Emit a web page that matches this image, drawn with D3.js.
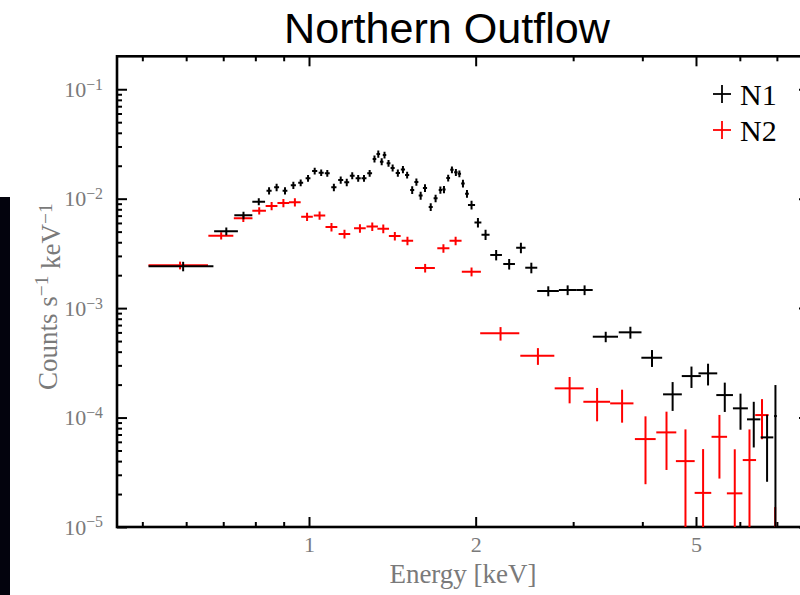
<!DOCTYPE html>
<html>
<head>
<meta charset="utf-8">
<script src="https://cdn.jsdelivr.net/npm/d3@7"></script>
<style>
  html, body { margin: 0; padding: 0; background: #ffffff; overflow: hidden; }
  svg { display: block; }
</style>
</head>
<body>
<svg id="chart" width="800" height="595"></svg>
<script>
// ---- N1 spectrum (energy bin centre, half bin width in keV, rate, 1-sigma error) ----
const n1Energy = [0.5925, 0.709, 0.7615, 0.8115, 0.847, 0.874, 0.905, 0.937, 0.966, 0.996,
  1.024, 1.052, 1.079, 1.109, 1.141, 1.170, 1.197, 1.227, 1.257, 1.287,
  1.313, 1.334, 1.353, 1.369, 1.392, 1.416, 1.447, 1.478, 1.504, 1.536,
  1.563, 1.591, 1.620, 1.659, 1.693, 1.727, 1.753, 1.784, 1.812, 1.842,
  1.869, 1.897, 1.929, 1.966, 2.019, 2.084, 2.178, 2.299, 2.414, 2.521,
  2.705, 2.932, 3.146, 3.435, 3.806, 4.164, 4.537, 4.907, 5.257, 5.636,
  6.017, 6.358, 6.72, 6.958];
const n1HalfWidth = [0.0795, 0.035, 0.0285, 0.0215, 0.009, 0.009, 0.009, 0.010, 0.010, 0.010,
  0.011, 0.011, 0.011, 0.012, 0.012, 0.012, 0.012, 0.013, 0.013, 0.013,
  0.010, 0.010, 0.010, 0.010, 0.011, 0.012, 0.013, 0.013, 0.013, 0.013,
  0.013, 0.013, 0.014, 0.014, 0.014, 0.012, 0.012, 0.014, 0.013, 0.013,
  0.013, 0.014, 0.015, 0.029, 0.029, 0.035, 0.053, 0.056, 0.047, 0.063,
  0.122, 0.105, 0.108, 0.18, 0.18, 0.18, 0.177, 0.194, 0.205, 0.195,
  0.187, 0.177, 0.177, 0.04];
const n1Rate = [2.41e-3, 5.04e-3, 7.05e-3, 9.39e-3, 1.183e-2, 1.271e-2, 1.183e-2, 1.326e-2, 1.400e-2, 1.536e-2,
  1.791e-2, 1.729e-2, 1.707e-2, 1.271e-2, 1.482e-2, 1.412e-2, 1.622e-2, 1.536e-2, 1.536e-2, 1.707e-2,
  2.306e-2, 2.562e-2, 2.179e-2, 2.508e-2, 2.107e-2, 1.909e-2, 1.718e-2, 1.849e-2, 1.646e-2, 1.201e-2,
  1.421e-2, 1.070e-2, 1.253e-2, 8.40e-3, 1.009e-2, 1.201e-2, 1.214e-2, 1.546e-2, 1.841e-2, 1.742e-2,
  1.692e-2, 1.377e-2, 1.111e-2, 8.76e-3, 6.06e-3, 4.69e-3, 3.06e-3, 2.53e-3, 3.56e-3, 2.34e-3,
  1.433e-3, 1.464e-3, 1.464e-3, 5.48e-4, 6.01e-4, 3.52e-4, 1.63e-4, 2.394e-4, 2.535e-4, 1.605e-4,
  1.214e-4, 9.63e-5, 6.59e-5, 1.032e-4];
const n1Error = [2.4e-4, 4e-4, 5.5e-4, 7e-4, 9e-4, 1.0e-3, 9e-4, 1.0e-3, 1.0e-3, 1.1e-3,
  1.3e-3, 1.2e-3, 1.2e-3, 1.0e-3, 1.1e-3, 1.1e-3, 1.2e-3, 1.1e-3, 1.1e-3, 1.2e-3,
  1.7e-3, 1.9e-3, 1.6e-3, 1.8e-3, 1.5e-3, 1.4e-3, 1.3e-3, 1.4e-3, 1.2e-3, 1.0e-3,
  1.1e-3, 9e-4, 1.0e-3, 7e-4, 8e-4, 9e-4, 9e-4, 1.1e-3, 1.3e-3, 1.3e-3,
  1.2e-3, 1.1e-3, 9e-4, 8e-4, 6e-4, 5e-4, 3.3e-4, 2.8e-4, 3.9e-4, 2.6e-4,
  1.5e-4, 1.5e-4, 1.5e-4, 6e-5, 7.5e-5, 6.2e-5, 4.8e-5, 5.3e-5, 5.7e-5, 4.8e-5,
  4.4e-5, 4.3e-5, 4e-5, 9.5e-5];

// ---- N2 spectrum ----
const n2Energy = [0.585, 0.694, 0.761, 0.813, 0.856, 0.899, 0.943, 0.992, 1.045, 1.098,
  1.159, 1.236, 1.301, 1.362, 1.429, 1.506, 1.621, 1.749, 1.840, 1.966,
  2.218, 2.591, 2.956, 3.314, 3.677, 4.053, 4.423, 4.786, 5.150, 5.512,
  5.875, 6.246, 6.580, 6.95];
const n2HalfWidth = [0.072, 0.036, 0.0295, 0.023, 0.021, 0.022, 0.023, 0.024, 0.025, 0.027,
  0.028, 0.030, 0.031, 0.033, 0.035, 0.036, 0.067, 0.044, 0.046, 0.078,
  0.18, 0.183, 0.178, 0.184, 0.178, 0.175, 0.184, 0.187, 0.178, 0.178,
  0.19, 0.173, 0.183, 0.05];
const n2Rate = [2.46e-3, 4.59e-3, 6.62e-3, 7.77e-3, 8.58e-3, 9.14e-3, 9.27e-3, 6.85e-3, 7.02e-3, 5.51e-3,
  4.76e-3, 5.36e-3, 5.57e-3, 5.32e-3, 4.56e-3, 4.13e-3, 2.325e-3, 3.52e-3, 4.13e-3, 2.15e-3,
  5.88e-4, 3.67e-4, 1.849e-4, 1.394e-4, 1.348e-4, 6.36e-5, 7.32e-5, 4.0e-5, 2.05e-5, 6.67e-5,
  2.03e-5, 4.09e-5, 1.054e-4, 7e-6];
const n2Error = [2e-4, 3.5e-4, 5e-4, 6e-4, 7.5e-4, 8e-4, 8e-4, 6e-4, 6e-4, 5e-4,
  4.3e-4, 4.8e-4, 5e-4, 4.8e-4, 4.1e-4, 3.7e-4, 2.1e-4, 3.2e-4, 3.7e-4, 2e-4,
  8.3e-5, 6.4e-5, 5e-5, 4.7e-5, 4.5e-5, 3.9e-5, 4e-5, 3.8e-5, 3.1e-5, 3.9e-5,
  3.1e-5, 3.7e-5, 4.2e-5, 8.2e-6];

// ---- axes ----
const xMajorTicks = [1, 2, 5];
const xMajorLabels = ["1", "2", "5"];
const yMajorTicks = [1e-5, 1e-4, 1e-3, 1e-2, 1e-1];
const yExponentLabels = ["\u22125", "\u22124", "\u22123", "\u22122", "\u22121"];
const seriesNames = ["N1", "N2"];
const seriesColors = ["#000000", "#ff0000"];
const titleText = "Northern Outflow";

const plot = { left: 117, right: 809, top: 56.3, bottom: 527 };
const svg = d3.select("#chart");
const serif = "'Liberation Serif', 'Times New Roman', serif";
const labelGrey = "#7a7a7a";

// dark strip at the left edge of the slide
svg.append("rect").attr("x", 0).attr("y", 197).attr("width", 10).attr("height", 398)
  .attr("fill", "#03030d");

const x = d3.scaleLog().domain([0.45, 8]).range([plot.left, plot.right]);
const y = d3.scaleLog().domain([1e-5, 0.2]).range([plot.bottom, plot.top]);

const xMinor = x.ticks().filter(v => !xMajorTicks.some(m => Math.abs(m - v) < 1e-9) && v < 7.99);
const yMinor = y.ticks().filter(v => !yMajorTicks.some(m => Math.abs(m - v) / m < 1e-6) && v < 0.199);

function styleAxis(g) {
  g.select(".domain").remove();
  g.selectAll(".tick line").attr("stroke", "#000").attr("stroke-width", 2);
}

// bottom axis
const gBottom = svg.append("g").attr("transform", `translate(0,${plot.bottom})`);
gBottom.call(d3.axisBottom(x).tickValues(xMajorTicks).tickSizeInner(-10).tickSizeOuter(0)
  .tickPadding(10).tickFormat((d, i) => xMajorLabels[i]));
styleAxis(gBottom);
gBottom.selectAll(".tick text").attr("font-family", serif).attr("font-size", 22)
  .attr("fill", labelGrey).attr("dy", "0.71em").attr("y", 9);
svg.append("g").attr("transform", `translate(0,${plot.bottom})`)
  .call(d3.axisBottom(x).tickValues(xMinor).tickSizeInner(-5).tickSizeOuter(0).tickFormat(""))
  .call(styleAxis);

// top axis
svg.append("g").attr("transform", `translate(0,${plot.top})`)
  .call(d3.axisTop(x).tickValues(xMajorTicks).tickSizeInner(-10).tickSizeOuter(0).tickFormat(""))
  .call(styleAxis);
svg.append("g").attr("transform", `translate(0,${plot.top})`)
  .call(d3.axisTop(x).tickValues(xMinor).tickSizeInner(-5).tickSizeOuter(0).tickFormat(""))
  .call(styleAxis);

// left axis
const gLeft = svg.append("g").attr("transform", `translate(${plot.left},0)`);
gLeft.call(d3.axisLeft(y).tickValues(yMajorTicks).tickSizeInner(-10).tickSizeOuter(0)
  .tickPadding(14).tickFormat(""));
styleAxis(gLeft);
gLeft.selectAll(".tick text").each(function(d, i) {
  const t = d3.select(this).attr("font-family", serif).attr("font-size", 22).attr("fill", labelGrey);
  t.append("tspan").text("10");
  t.append("tspan").attr("dy", "-0.45em").attr("font-size", "0.72em").text(yExponentLabels[i]);
});
svg.append("g").attr("transform", `translate(${plot.left},0)`)
  .call(d3.axisLeft(y).tickValues(yMinor).tickSizeInner(-5).tickSizeOuter(0).tickFormat(""))
  .call(styleAxis);

// right axis
svg.append("g").attr("transform", `translate(${plot.right},0)`)
  .call(d3.axisRight(y).tickValues(yMajorTicks).tickSizeInner(-10).tickSizeOuter(0).tickFormat(""))
  .call(styleAxis);
svg.append("g").attr("transform", `translate(${plot.right},0)`)
  .call(d3.axisRight(y).tickValues(yMinor).tickSizeInner(-5).tickSizeOuter(0).tickFormat(""))
  .call(styleAxis);

// frame
svg.append("rect").attr("x", plot.left).attr("y", plot.top)
  .attr("width", plot.right - plot.left).attr("height", plot.bottom - plot.top)
  .attr("fill", "none").attr("stroke", "#000").attr("stroke-width", 2.6);

// data
svg.append("clipPath").attr("id", "plotClip").append("rect")
  .attr("x", plot.left).attr("y", plot.top)
  .attr("width", plot.right - plot.left).attr("height", plot.bottom - plot.top);

const series = [
  { e: n1Energy, w: n1HalfWidth, r: n1Rate, s: n1Error },
  { e: n2Energy, w: n2HalfWidth, r: n2Rate, s: n2Error }
];
const floor = y.domain()[0] * 0.5;

const dataLayer = svg.append("g").attr("clip-path", "url(#plotClip)");
// draw N2 first, then N1 on top
[1, 0].forEach(k => {
  const sr = series[k];
  const pts = sr.e.map((e, i) => ({ e, w: sr.w[i], r: sr.r[i], s: sr.s[i] }));
  const g = dataLayer.append("g").attr("stroke", seriesColors[k]).attr("stroke-width", 2)
    .attr("fill", "none");
  g.selectAll("line.h").data(pts).join("line").attr("class", "h")
    .attr("x1", d => x(d.e - d.w)).attr("x2", d => x(d.e + d.w))
    .attr("y1", d => y(d.r)).attr("y2", d => y(d.r));
  g.selectAll("line.v").data(pts).join("line").attr("class", "v")
    .attr("x1", d => x(d.e)).attr("x2", d => x(d.e))
    .attr("y1", d => y(Math.max(d.r - d.s, floor))).attr("y2", d => y(d.r + d.s));
});

// legend
const legend = svg.append("g");
seriesNames.forEach((name, i) => {
  const cy = 94 + i * 36;
  legend.append("line").attr("x1", 713).attr("x2", 731).attr("y1", cy).attr("y2", cy)
    .attr("stroke", seriesColors[i]).attr("stroke-width", 1.8);
  legend.append("line").attr("x1", 722).attr("x2", 722).attr("y1", cy - 9).attr("y2", cy + 9)
    .attr("stroke", seriesColors[i]).attr("stroke-width", 1.8);
  legend.append("text").attr("x", 740).attr("y", cy + 10.5)
    .attr("font-family", serif).attr("font-size", 30).attr("fill", "#000").text(name);
});

// title
svg.append("text").attr("x", 447).attr("y", 43).attr("text-anchor", "middle")
  .attr("font-family", "'Liberation Sans', Arial, sans-serif").attr("font-size", 43)
  .attr("textLength", 326).attr("lengthAdjust", "spacingAndGlyphs")
  .attr("fill", "#000").text(titleText);

// axis titles
svg.append("text").attr("x", (plot.left + plot.right) / 2).attr("y", 583)
  .attr("text-anchor", "middle").attr("font-family", serif).attr("font-size", 27)
  .attr("fill", labelGrey).text("Energy [keV]");

const yTitle = svg.append("text")
  .attr("transform", `translate(57,${(plot.top + plot.bottom) / 2 + 5}) rotate(-90)`)
  .attr("text-anchor", "middle").attr("font-family", serif).attr("font-size", 27)
  .attr("fill", labelGrey);
yTitle.append("tspan").text("Counts s");
yTitle.append("tspan").attr("dy", "-0.45em").attr("font-size", "0.72em").text("\u22121");
yTitle.append("tspan").attr("dy", "0.45em").text(" keV");
yTitle.append("tspan").attr("dy", "-0.45em").attr("font-size", "0.72em").text("\u22121");
</script>
</body>
</html>
